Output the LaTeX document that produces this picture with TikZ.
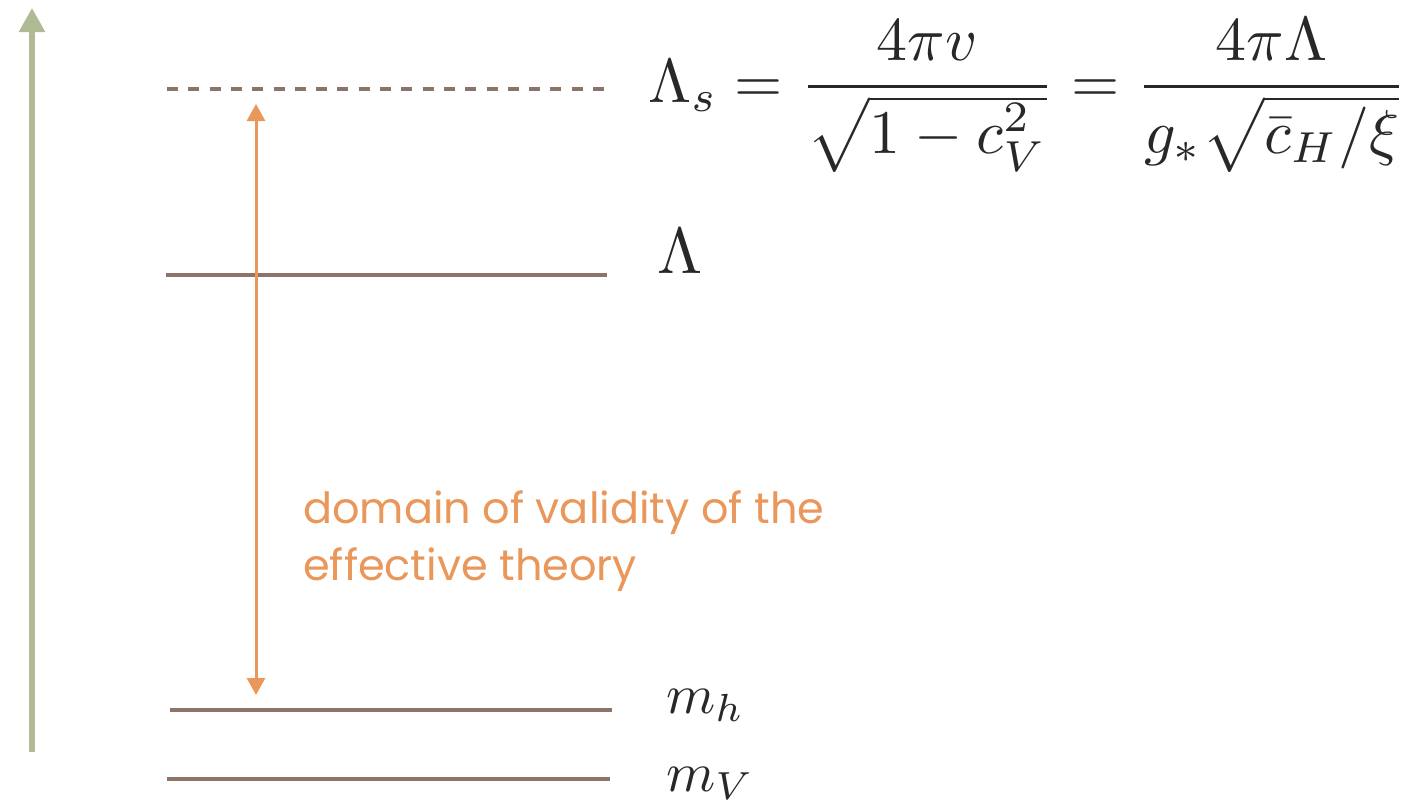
\documentclass[tikz,border=0pt]{standalone}
\usepackage{amsmath}
\usepackage{fontspec}
\newfontfamily\labelfont{Poppins}
\usetikzlibrary{arrows.meta}
\definecolor{axisgreen}{RGB}{176,186,148}
\definecolor{levelbrown}{RGB}{140,116,104}
\definecolor{rangeorange}{RGB}{233,151,90}
\definecolor{mathgray}{RGB}{40,40,40}
\newcommand{\bigmath}[2]{\scalebox{#1}{$#2$}}
\tikzset{
  level/.style={draw=levelbrown, line width=4.5pt},
  axisline/.style={draw=axisgreen, line width=5.5pt, -{Triangle[length=24pt,width=25pt]}},
  rangearrow/.style={draw=rangeorange, line width=3pt, {Triangle[length=17pt,width=18pt]}-{Triangle[length=17pt,width=18pt]}},
  mathlabel/.style={anchor=base west, inner sep=0pt, text=mathgray, font=\fontsize{10}{12}\selectfont},
  desc/.style={anchor=base west, inner sep=0pt, text=rangeorange, font=\labelfont\fontsize{43}{57}\selectfont, align=left}
}
\begin{document}
\begin{tikzpicture}[x=1pt,y=-1pt]
\useasboundingbox (0,0) rectangle (1414,809);
% axis
\coordinate (ax0) at (32,752);
\coordinate (ax1) at (32,8);
\draw[axisline] (ax0) -- (ax1);
% levels
\coordinate (s0) at (167,89);  \coordinate (s1) at (606,89);
\coordinate (l0) at (166,275); \coordinate (l1) at (607,275);
\coordinate (h0) at (170,710); \coordinate (h1) at (612,710);
\coordinate (v0) at (167,779); \coordinate (v1) at (610,779);
\draw[level, dash pattern=on 11pt off 10.3pt] (s0) -- (s1);
\draw[level] (l0) -- (l1);
\draw[level] (h0) -- (h1);
\draw[level] (v0) -- (v1);
% range arrow
\coordinate (r0) at (256,104);
\coordinate (r1) at (256,695);
\draw[rangearrow] (r0) -- (r1);
% labels
\node[mathlabel] (lams) at (648,102) {\bigmath{6.2}{\Lambda_s=\dfrac{4\pi v}{\sqrt{1-c_V^2}}=\dfrac{4\pi\Lambda}{g_*\sqrt{\bar c_H/\xi}}}};
\node[mathlabel] (lam) at (657,273) {\bigmath{6.5}{\Lambda}};
\node[mathlabel] (mh) at (666,713) {\bigmath{5.6}{m_h}};
\node[mathlabel] (mv) at (666,791) {\bigmath{5.6}{m_V}};
\node[desc] (dom) at (303,580) {domain of validity of the\\effective theory};
\end{tikzpicture}
\end{document}
